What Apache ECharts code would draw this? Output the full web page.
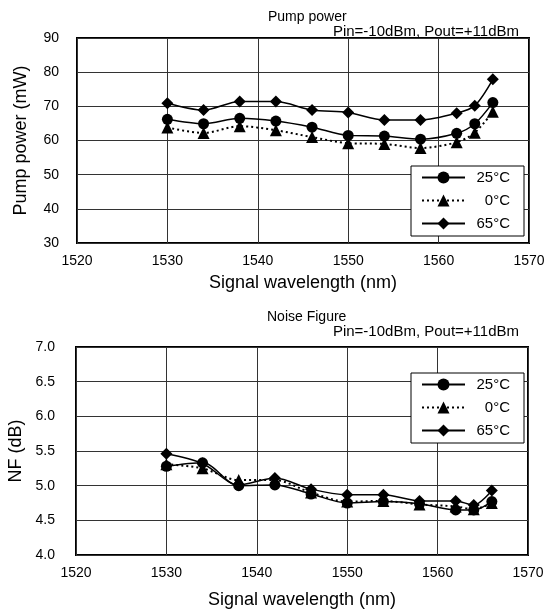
<!DOCTYPE html>
<html>
<head>
<meta charset="utf-8">
<script src="https://cdn.jsdelivr.net/npm/echarts@6/dist/echarts.min.js"></script>
<style>
  html, body { margin: 0; padding: 0; background: #fff; }
  #chart { width: 548px; height: 614px; }
</style>
</head>
<body>
<div id="chart"></div>
<script>
// signal wavelengths (nm)
const wavelength = [1530, 1534, 1538, 1542, 1546, 1550, 1554, 1558, 1562, 1564, 1566]

// pump power (mW)
const pump25 = [66.2, 64.9, 66.5, 65.7, 63.9, 61.5, 61.3, 60.4, 62.1, 64.9, 71.1]
const pump0 = [63.8, 62.2, 64.2, 63.0, 61.0, 59.2, 59.0, 57.8, 59.5, 62.3, 68.4]
const pump65 = [70.9, 68.9, 71.4, 71.4, 68.9, 68.2, 66.0, 66.0, 68.0, 70.2, 77.9]

// noise figure (dB)
const nf25 = [5.28, 5.33, 5.00, 5.01, 4.88, 4.75, 4.77, 4.74, 4.65, 4.65, 4.77]
const nf0 = [5.31, 5.25, 5.08, 5.08, 4.90, 4.77, 4.78, 4.73, 4.70, 4.66, 4.75]
const nf65 = [5.46, 5.32, 5.01, 5.11, 4.95, 4.87, 4.87, 4.78, 4.78, 4.72, 4.93]

const seriesNames = ['25°C', '0°C', '65°C']

const FONT = '"Liberation Sans", Arial, sans-serif'

const pair = (ys) => wavelength.map((x, i) => [x, ys[i]])

function mkSeries(name, ys, idx, kind) {
  const base = {
    name,
    type: 'line',
    xAxisIndex: idx,
    yAxisIndex: idx,
    data: pair(ys),
    smooth: 0.3,
    color: '#000',
    itemStyle: { color: '#000' },
    emphasis: { disabled: true },
  }
  if (kind === 'circle') {
    return { ...base, symbol: 'circle', symbolSize: 11, lineStyle: { color: '#000', width: 1.5 } }
  }
  if (kind === 'triangle') {
    return { ...base, symbol: 'triangle', symbolSize: 12, lineStyle: { color: '#000', width: 2, type: [2, 3] } }
  }
  return { ...base, symbol: 'diamond', symbolSize: [12, 12], lineStyle: { color: '#000', width: 1.5 } }
}

function mkAxisX(idx, gap) {
  return {
    type: 'value',
    gridIndex: idx,
    min: 1520,
    max: 1570,
    interval: 10,
    name: 'Signal wavelength (nm)',
    nameLocation: 'center',
    nameGap: gap,
    nameTextStyle: { color: '#000', fontSize: 18, fontFamily: FONT },
    axisLine: { show: false },
    axisTick: { show: false },
    axisLabel: { color: '#000', fontSize: 14, fontFamily: FONT, margin: 11, formatter: (v) => String(v) },
    splitLine: { show: true, lineStyle: { color: '#333', width: 1 } },
  }
}

function mkAxisY(idx, opts) {
  return {
    type: 'value',
    gridIndex: idx,
    nameLocation: 'center',
    nameTextStyle: { color: '#000', fontSize: 18, fontFamily: FONT },
    axisLine: { show: false },
    axisTick: { show: false },
    splitLine: { show: true, lineStyle: { color: '#333', width: 1 } },
    ...opts,
  }
}

function mkLegend(top) {
  return {
    orient: 'vertical',
    left: 411,
    top,
    data: seriesNames,
    itemWidth: 43,
    itemHeight: 15,
    itemGap: 8,
    padding: [4, 14, 5, 10],
    backgroundColor: '#fff',
    borderColor: '#000',
    borderWidth: 1,
    borderRadius: 0,
    selectedMode: false,
    formatter: '{t|{name}}',
    textStyle: {
      color: '#000',
      fontSize: 15,
      fontFamily: FONT,
      rich: { t: { width: 40, align: 'right', fontSize: 15, fontFamily: FONT, color: '#000' } },
    },
  }
}

const option = {
  backgroundColor: '#fff',
  animation: false,
  title: [
    { text: 'Pump power', left: 263, top: 5, textStyle: { fontSize: 14, fontWeight: 'normal', color: '#000', fontFamily: FONT } },
    { text: 'Pin=-10dBm, Pout=+11dBm', right: 24, top: 19, textStyle: { fontSize: 15, fontWeight: 'normal', color: '#000', fontFamily: FONT } },
    { text: 'Noise Figure', left: 262, top: 305, textStyle: { fontSize: 14, fontWeight: 'normal', color: '#000', fontFamily: FONT } },
    { text: 'Pin=-10dBm, Pout=+11dBm', right: 24, top: 319, textStyle: { fontSize: 15, fontWeight: 'normal', color: '#000', fontFamily: FONT } },
  ],
  legend: [mkLegend(166), mkLegend(373)],
  grid: [
    { left: 77, top: 38, width: 452, height: 205, show: true, borderColor: '#000', borderWidth: 2, backgroundColor: 'transparent', containLabel: false, outerBoundsMode: 'none' },
    { left: 76, top: 347, width: 452, height: 208, show: true, borderColor: '#000', borderWidth: 2, backgroundColor: 'transparent', containLabel: false, outerBoundsMode: 'none' },
  ],
  xAxis: [mkAxisX(0, 31), mkAxisX(1, 36)],
  yAxis: [
    mkAxisY(0, {
      min: 30, max: 90, interval: 10, name: 'Pump power (mW)', nameGap: 47,
      axisLabel: { color: '#000', fontSize: 14, fontFamily: FONT, margin: 18 },
    }),
    mkAxisY(1, {
      min: 4, max: 7, interval: 0.5, name: 'NF (dB)', nameGap: 48,
      axisLabel: { color: '#000', fontSize: 14, fontFamily: FONT, margin: 21, formatter: (v) => v.toFixed(1) },
    }),
  ],
  series: [
    mkSeries('25°C', pump25, 0, 'circle'),
    mkSeries('0°C', pump0, 0, 'triangle'),
    mkSeries('65°C', pump65, 0, 'diamond'),
    mkSeries('25°C', nf25, 1, 'circle'),
    mkSeries('0°C', nf0, 1, 'triangle'),
    mkSeries('65°C', nf65, 1, 'diamond'),
  ],
}

const chart = echarts.init(document.getElementById('chart'), null, { renderer: 'canvas' })
chart.setOption(option)
</script>
</body>
</html>
